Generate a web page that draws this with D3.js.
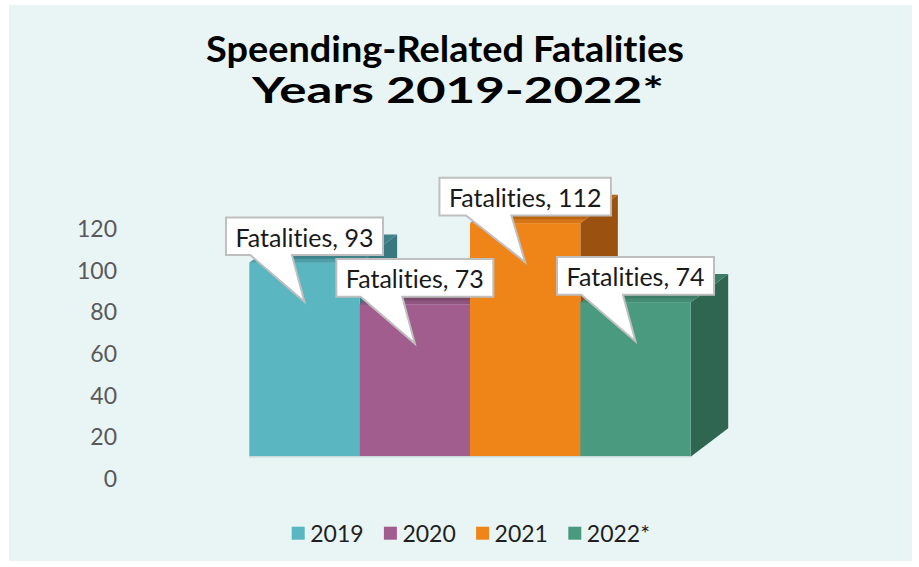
<!DOCTYPE html>
<html>
<head>
<meta charset="utf-8">
<script src="https://cdn.jsdelivr.net/npm/d3@7"></script>
<style>
  body { margin: 0; background: #ffffff; }
  svg { display: block; font-family: "Century Gothic", Lato, "DejaVu Sans", sans-serif; font-variant-ligatures: none; font-feature-settings: "liga" 0, "clig" 0; }
</style>
</head>
<body>
<div class="chart"></div>
<script>
// data
const years = ["2019", "2020", "2021", "2022*"];
const fatalities = [93, 73, 112, 74];
const yTicks = [0, 20, 40, 60, 80, 100, 120];
const seriesName = "Fatalities";

const frontCol = { "2019": "#5ab6c0", "2020": "#a15d8e", "2021": "#ef8419", "2022*": "#4a9a80" };
const topCol   = { "2019": "#40828a", "2020": "#7b4a6d", "2021": "#b86614", "2022*": "#3d7c67" };
const sideCol  = { "2019": "#3a7880", "2020": "#6c3f60", "2021": "#9b5210", "2022*": "#2e6651" };

var getCol = function (table, key) {
    return table[key];
};

var width = 919,
    height = 567;

// 3d depth offset of the bars
var depth = { dx: 37.5, dy: -28.4 };

var svg = d3.select('.chart')
    .append('svg')
    .attr("width", width)
    .attr("height", height);

// panel background
svg.append("rect")
    .attr("x", 9).attr("y", 5)
    .attr("width", 903).attr("height", 556)
    .attr("fill", "#e9f5f5");

var x = d3.scaleBand()
    .domain(years)
    .range([249.3, 690.7])
    .padding(0);

var y = d3.scaleLinear()
    .domain([0, 120])
    .range([456.7, 456.7 - 250.2]);

// title: size line 1 to its width in the picture, stretch line 2 like the wide gothic digits
var title = svg.append("g")
    .attr("font-weight", "bold")
    .attr("fill", "#000");
var t1 = title.append("text")
    .attr("x", 206).attr("y", 62.3)
    .attr("font-size", 35)
    .text("Speending-Related Fatalities");
var fs = Math.min(36, 1.05 * 35 * 478 / t1.node().getComputedTextLength());
t1.attr("font-size", fs)
    .attr("textLength", 478).attr("lengthAdjust", "spacingAndGlyphs");
title.append("text")
    .attr("x", 252).attr("y", 103.3)
    .attr("font-size", fs)
    .attr("textLength", 412).attr("lengthAdjust", "spacingAndGlyphs")
    .text("Years 2019-2022*");

// y axis (Excel draws it slightly below the bar floor)
var yAxis = d3.axisLeft(y)
    .tickValues(yTicks)
    .tickSize(0)
    .tickPadding(0);

var axisG = svg.append("g")
    .attr("class", "y-axis")
    .attr("transform", "translate(117,22.6)")
    .call(yAxis);
axisG.select(".domain").remove();
axisG.selectAll("text")
    .attr("font-size", 23)
    .attr("font-family", "\"Century Gothic\", Lato, sans-serif")
    .attr("fill", "#595959");

var data = years.map(function (d, i) {
    return { year: d, value: fatalities[i] };
});

// bars, left to right so each front hides the previous side
var bars = svg.selectAll(".bar")
    .data(data)
    .enter()
    .append("g")
    .attr("class", "bar");

bars.append("path")
    .attr("fill", function (d) { return getCol(sideCol, d.year); })
    .attr("d", function (d) {
        var x1 = x(d.year) + x.bandwidth(), y0 = y(0), y1 = y(d.value);
        return "M" + x1 + "," + y0 + "L" + x1 + "," + y1 +
            "L" + (x1 + depth.dx) + "," + (y1 + depth.dy) +
            "L" + (x1 + depth.dx) + "," + (y0 + depth.dy) + "Z";
    });

bars.append("path")
    .attr("fill", function (d) { return getCol(topCol, d.year); })
    .attr("d", function (d) {
        var x0 = x(d.year), x1 = x0 + x.bandwidth(), y1 = y(d.value);
        return "M" + x0 + "," + y1 + "L" + x1 + "," + y1 +
            "L" + (x1 + depth.dx) + "," + (y1 + depth.dy) +
            "L" + (x0 + depth.dx) + "," + (y1 + depth.dy) + "Z";
    });

bars.append("rect")
    .attr("fill", function (d) { return getCol(frontCol, d.year); })
    .attr("x", function (d) { return x(d.year); })
    .attr("y", function (d) { return y(d.value); })
    .attr("width", x.bandwidth())
    .attr("height", function (d) { return y(0) - y(d.value); });

// small bevel along the front top edge
bars.append("path")
    .attr("fill", function (d) { return getCol(frontCol, d.year); })
    .attr("opacity", 0.55)
    .attr("d", function (d) {
        var x0 = x(d.year), x1 = x0 + x.bandwidth(), y1 = y(d.value);
        return "M" + x0 + "," + y1 + "L" + x1 + "," + y1 +
            "L" + (x1 + 5) + "," + (y1 - 4) + "L" + (x0 + 5) + "," + (y1 - 4) + "Z";
    });

// floor edge line
svg.append("line")
    .attr("x1", x.range()[0]).attr("x2", x.range()[1])
    .attr("y1", y(0)).attr("y2", y(0))
    .attr("stroke", "#c9d9db").attr("stroke-width", 1.5);

// callout data labels
var labels = svg.selectAll(".label")
    .data(data)
    .enter()
    .append("g")
    .attr("class", "label");

labels.each(function (d) {
    var g = d3.select(this);
    var tipX = x(d.year) + x.bandwidth() / 2,
        tipY = y(d.value) + 39;
    var path = g.append("path");
    var txt = g.append("text")
        .attr("x", tipX)
        .attr("y", tipY - 46.7 - 8.3)
        .attr("text-anchor", "middle")
        .attr("font-size", 25)
        .attr("fill", "#1a1a1a")
        .text(seriesName + ", " + d.value);
    var w = txt.node().getComputedTextLength() + 19,
        h = 37.7;
    var left = tipX - w / 2, right = tipX + w / 2,
        bottom = tipY - 46.7, top = bottom - h;
    path.attr("d",
        "M" + left + "," + top + "H" + right + "V" + bottom +
        "H" + (left + 0.42 * w) + "L" + tipX + "," + tipY +
        "L" + (left + 0.155 * w) + "," + bottom + "H" + left + "Z")
        .attr("fill", "#ffffff")
        .attr("stroke", "#bfbfbf")
        .attr("stroke-width", 2)
        .attr("stroke-linejoin", "miter");
});

// legend
var legend = svg.selectAll(".legend")
    .data(years)
    .enter()
    .append("g")
    .attr("class", "legend")
    .attr("transform", function (d, i) {
        return "translate(" + (291.7 + i * 92.2) + ",526.7)";
    });

legend.append("rect")
    .attr("width", 13).attr("height", 13)
    .attr("fill", function (d) { return getCol(frontCol, d); });

legend.append("text")
    .attr("x", 18.5).attr("y", 15)
    .attr("font-size", 23)
    .attr("fill", "#1f1f1f")
    .text(function (d) { return d; });
</script>
</body>
</html>
